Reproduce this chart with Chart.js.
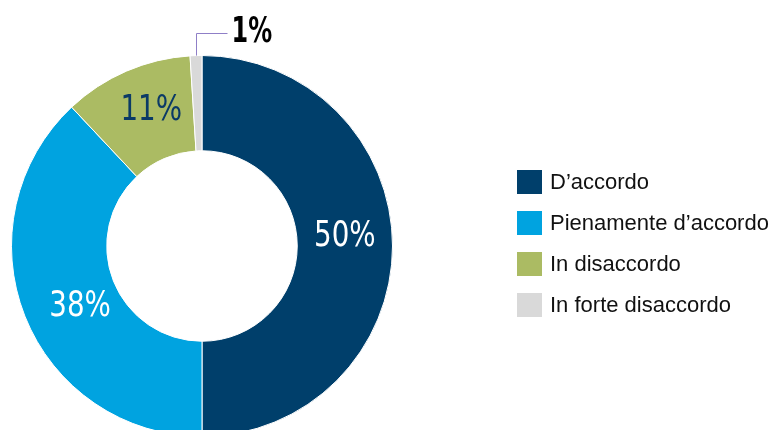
<!DOCTYPE html>
<html lang="it">
<head>
<meta charset="utf-8">
<title>Grado di accordo</title>
<script src="https://cdn.jsdelivr.net/npm/chart.js@4/dist/chart.umd.min.js"></script>
<style>
  html, body { margin: 0; padding: 0; background: #fff; overflow: hidden; }
  body { width: 769px; height: 430px; position: relative; }
  #chart { position: absolute; left: 0; top: 0; }
  #legend { position: absolute; left: 517px; top: 170px; font-family: "Liberation Sans", Arial, sans-serif; font-size: 22px; color: #111; }
  .item { display: flex; align-items: center; height: 24px; margin-bottom: 17px; }
  .box { width: 25px; height: 24px; margin-right: 8px; flex: none; }
</style>
</head>
<body>
<canvas id="chart" width="769" height="440"></canvas>
<div id="legend"></div>
<script>
// risposte in percentuale
const categories = ['D’accordo', 'Pienamente d’accordo', 'In disaccordo', 'In forte disaccordo'];
const values = [50, 38, 11, 1];
const colors = ['#003f6b', '#00a3e0', '#abbb63', '#d9d9d9'];
const labelColors = ['#ffffff', '#ffffff', '#0b3a66', '#000000'];
const labelShift = [[0, -9], [11, 8], [6, -4], [0, 0]];

const labelFont = '35px "DejaVu Sans Condensed", sans-serif';

// testo stretto orizzontalmente
function narrowText(ctx, text, x, y, squeeze) {
    ctx.save();
    ctx.translate(x, y);
    ctx.scale(squeeze, 1);
    ctx.fillText(text, 0, 0);
    ctx.restore();
}

// etichette dentro le fette, l'ultima con linea di richiamo
const sliceLabels = {
    id: 'sliceLabels',
    afterDatasetsDraw(chart) {
        const ctx = chart.ctx;
        const arcs = chart.getDatasetMeta(0).data;
        ctx.save();
        ctx.textBaseline = 'middle';
        arcs.forEach((arc, i) => {
            const text = values[i] + '%';
            ctx.fillStyle = labelColors[i];
            if (i === arcs.length - 1) {
                const mid = (arc.startAngle + arc.endAngle) / 2;
                const px = Math.round(arc.x + Math.cos(mid) * arc.outerRadius) + 0.5;
                const py = arc.y + Math.sin(mid) * arc.outerRadius;
                const ly = Math.round(py - 23) + 0.5;
                ctx.strokeStyle = '#8f7fc7';
                ctx.lineWidth = 1;
                ctx.beginPath();
                ctx.moveTo(px, py);
                ctx.lineTo(px, ly);
                ctx.lineTo(px + 31, ly);
                ctx.stroke();
                ctx.font = 'bold ' + labelFont;
                ctx.textAlign = 'left';
                narrowText(ctx, text, px + 35, ly - 1, 0.76);
                return;
            }
            const c = arc.getCenterPoint();
            ctx.font = labelFont;
            ctx.textAlign = 'center';
            narrowText(ctx, text, c.x + labelShift[i][0], c.y + labelShift[i][1], 0.88);
        });
        ctx.restore();
    }
};

new Chart(document.getElementById('chart'), {
    type: 'doughnut',
    data: {
        labels: categories,
        datasets: [{
            data: values,
            backgroundColor: colors,
            borderColor: '#ffffff',
            borderWidth: 1
        }]
    },
    options: {
        responsive: false,
        animation: false,
        cutout: '50%',
        layout: { padding: { left: 11, top: 55, right: 376, bottom: 3 } },
        plugins: {
            legend: { display: false },
            tooltip: { enabled: false }
        }
    },
    plugins: [sliceLabels]
});

// legenda a destra
const legend = document.getElementById('legend');
categories.forEach((name, i) => {
    const row = document.createElement('div');
    row.className = 'item';
    const box = document.createElement('span');
    box.className = 'box';
    box.style.background = colors[i];
    const label = document.createElement('span');
    label.textContent = name;
    row.appendChild(box);
    row.appendChild(label);
    legend.appendChild(row);
});
</script>
</body>
</html>
